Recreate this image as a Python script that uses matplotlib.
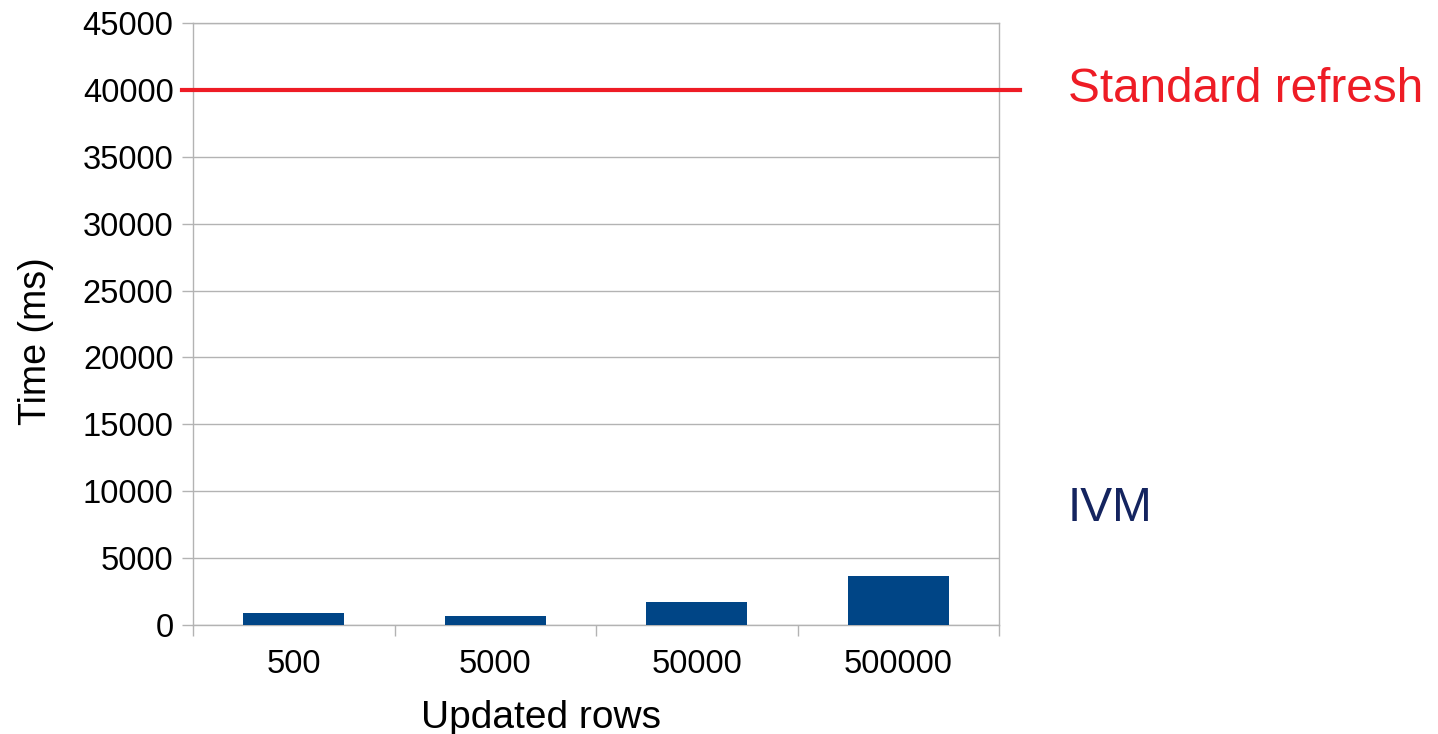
import matplotlib
matplotlib.use("Agg")
import matplotlib.pyplot as plt
import matplotlib.transforms as mtransforms

categories = ["500", "5000", "50000", "500000"]
ivm_times = [920, 680, 1730, 3700]
standard_refresh = 40000
y_ticks = list(range(0, 45001, 5000))

plt.rcParams['font.family'] = ['Liberation Sans', 'DejaVu Sans']

fig = plt.figure(figsize=(14.38, 7.34), dpi=100)
ax = fig.add_axes([193/1438, (734-625)/734, (999-193)/1438, (625-23)/734])

x = list(range(len(categories)))
ax.bar(x, ivm_times, width=0.5, color="#004586", zorder=3)
ax.set_xlim(-0.5, len(categories) - 0.5)
ax.set_ylim(0, 45000)
ax.set_yticks(y_ticks)
ax.set_yticklabels([str(v) for v in y_ticks])
ax.set_xticks(x)
ax.set_xticklabels(categories)
ax.set_xticks([i - 0.5 for i in range(len(categories) + 1)], minor=True)

ax.tick_params(axis='x', which='major', length=0, labelsize=23.5, pad=17)
ax.tick_params(axis='x', which='minor', length=8, width=1, color="#b3b3b3")
ax.tick_params(axis='y', length=8, width=1, color="#b3b3b3", labelsize=23.5, pad=6)

ax.grid(axis='y', color="#b3b3b3", linewidth=1, zorder=0)
for s in ax.spines.values():
    s.set_color("#b3b3b3")
    s.set_linewidth(1)

ax.axhline(standard_refresh, xmin=-0.0136, xmax=1.026, color="#ee1c25",
           linewidth=3, clip_on=False, zorder=4)

trans = mtransforms.blended_transform_factory(ax.transAxes, ax.transData)
ax.text(1.0856, standard_refresh, "Standard refresh", transform=trans,
        color="#ee1c25", fontsize=34.4, va='center', ha='left')
ax.text(1.0856, 8700, "IVM", transform=trans,
        color="#14245f", fontsize=34.4, va='center', ha='left')

ax.set_xlabel("Updated rows", fontsize=28, labelpad=15)
ax.set_ylabel("Time (ms)", fontsize=27, labelpad=21)
ax.xaxis.label.set_x(0.4318)
ax.yaxis.label.set_y(0.4718)

fig.savefig("out.png", dpi=100)
